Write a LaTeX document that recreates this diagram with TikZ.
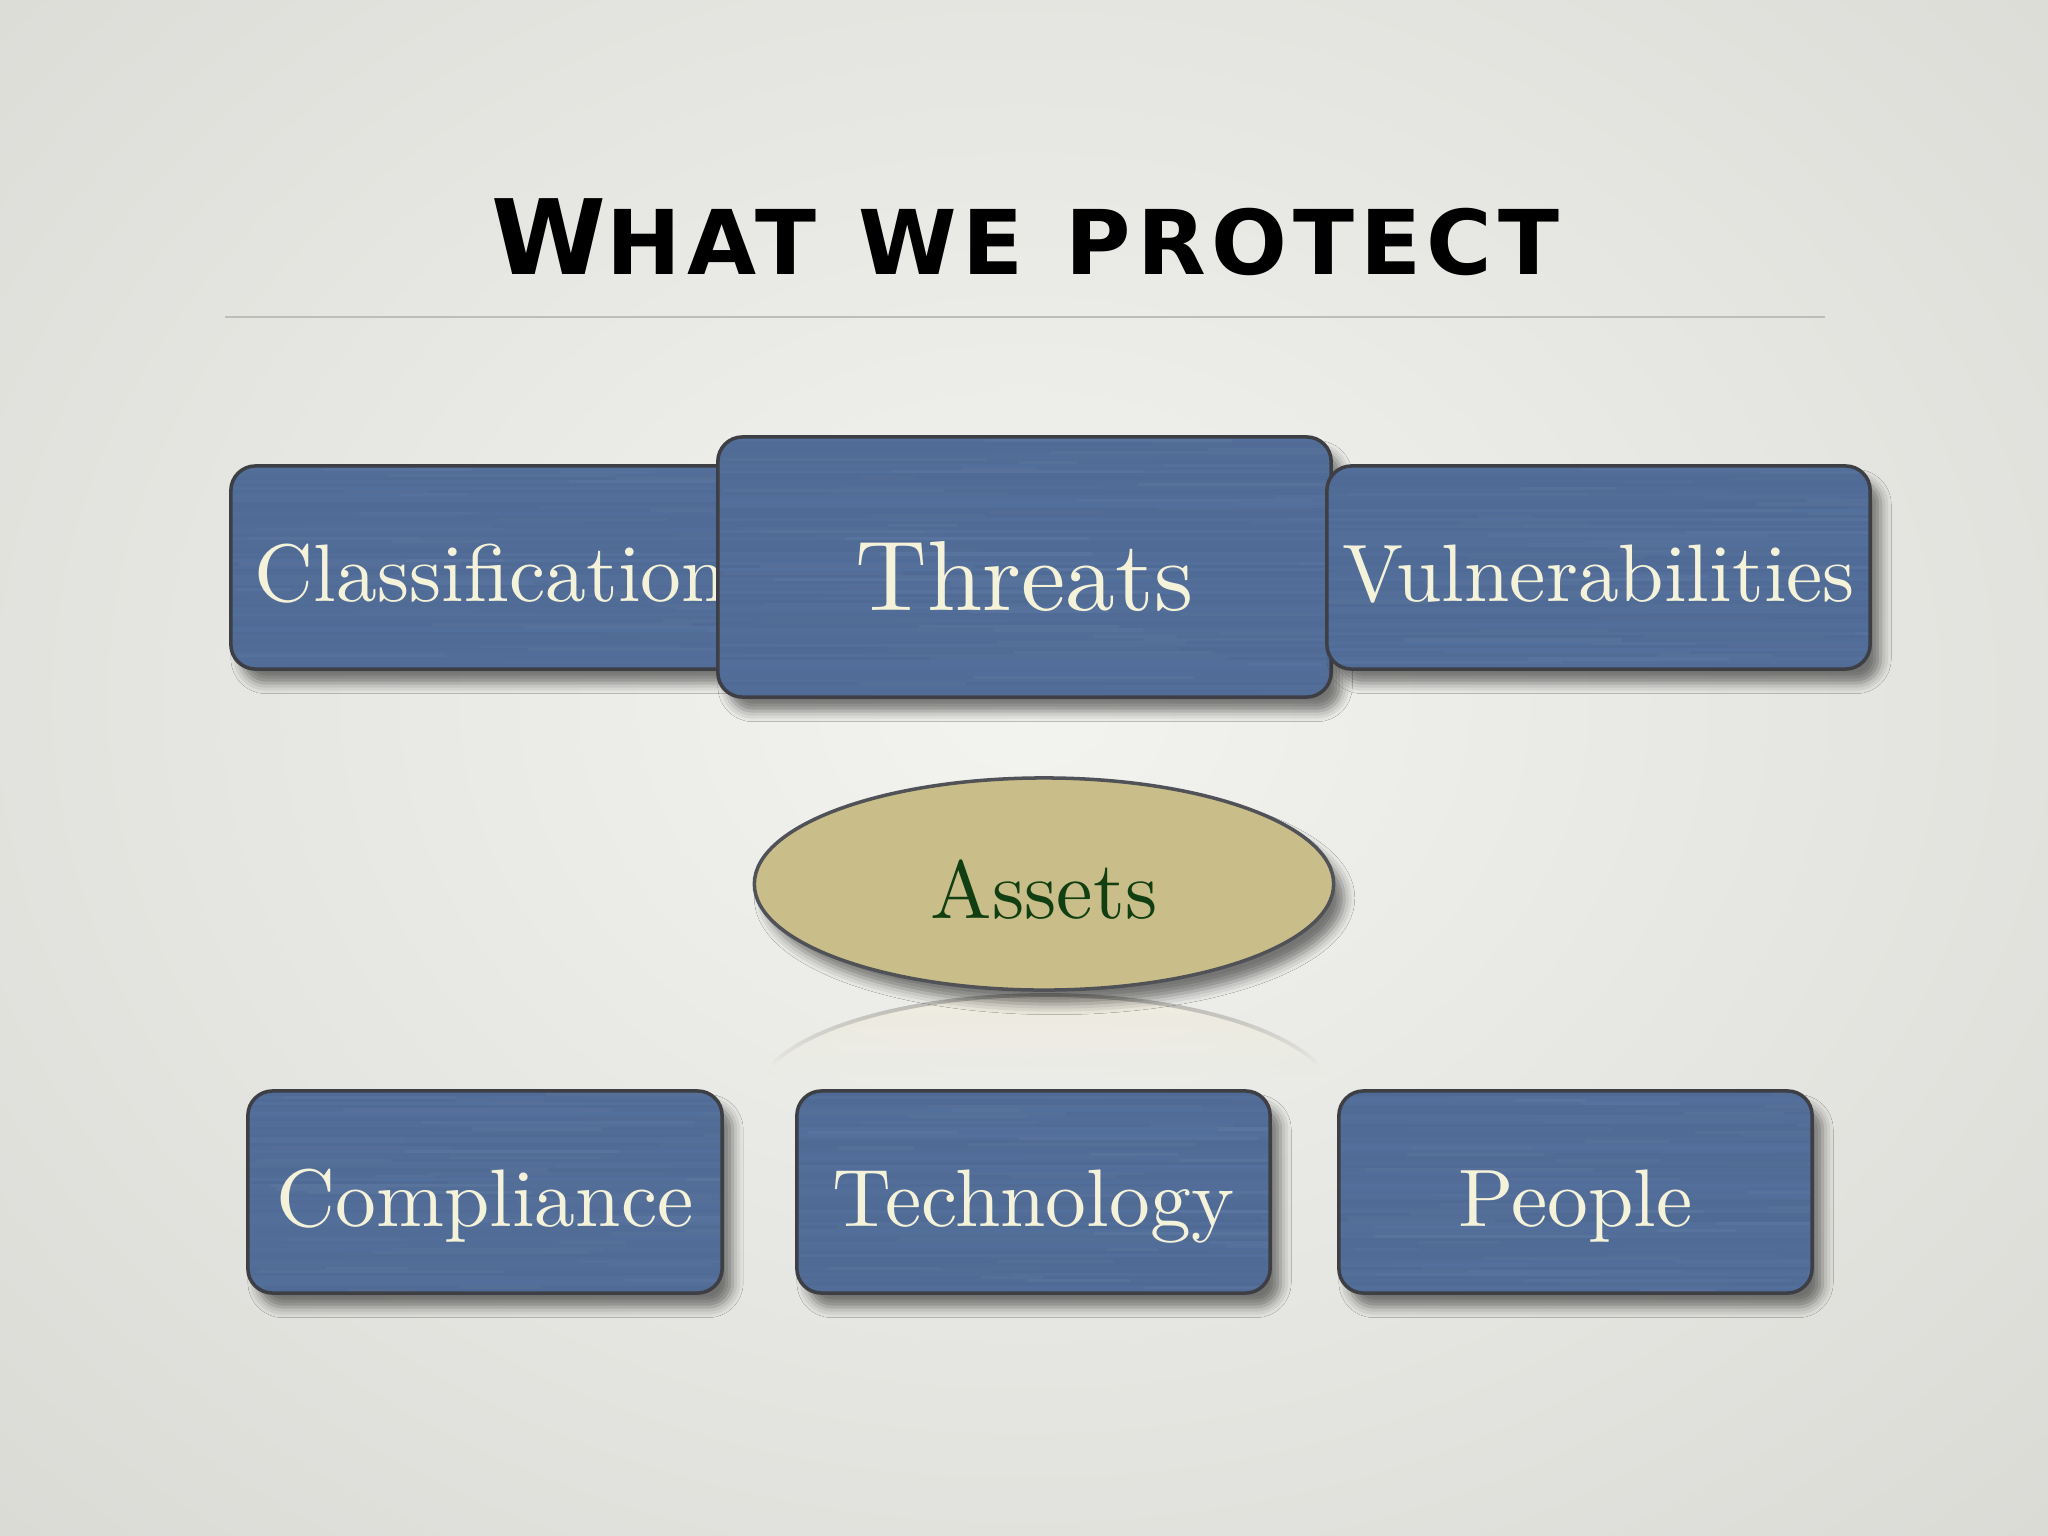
\documentclass[tikz,border=0pt]{standalone}
\usepackage{fontspec}
\newfontfamily\titlefont[LetterSpace=6.5]{DejaVu Sans}
\newfontfamily\boxfont{lmroman10-regular.otf}
\usetikzlibrary{shadows.blur,fadings,shapes.geometric,calc}
\definecolor{bgin}{HTML}{F3F3F0}
\definecolor{bgout}{HTML}{C9CAC3}
\definecolor{boxblue}{RGB}{83,111,155}
\definecolor{boxline}{HTML}{3D3F44}
\definecolor{cream}{HTML}{F5F2DA}
\definecolor{khaki}{RGB}{201,190,137}
\definecolor{assetgreen}{HTML}{113F12}
\definecolor{rulegray}{HTML}{BDBDBA}
\tikzfading[name=fadedown, top color=transparent!0, bottom color=transparent!100]
\begin{document}
\begin{tikzpicture}[x=0.01cm,y=-0.01cm,
  boxshadow/.style={blur shadow={shadow xshift=3pt, shadow yshift=-4pt, shadow blur radius=3pt, shadow opacity=50}},
  brushed/.style={path picture={
    \pgfmathsetseed{#1}
    \foreach \k in {0,...,85}{
      \pgfmathsetmacro\opa{0.045*rnd}
      \pgfmathsetmacro\opb{0.04*rnd}
      \pgfmathsetmacro\sa{rnd}
      \pgfmathsetmacro\la{0.5+2.5*rnd}
      \draw[black, opacity=\opa, line width=0.9pt]
        ([yshift=-\k*0.9pt]path picture bounding box.north west) -- ([yshift=-\k*0.9pt]path picture bounding box.north east);
      \draw[white, opacity=\opb, line width=0.9pt]
        ($([yshift=-\k*0.9pt]path picture bounding box.north west)!\sa!([yshift=-\k*0.9pt]path picture bounding box.north east)$) -- ++(\la cm,0pt);
    }}},
  bluebox/.style={draw=boxline, line width=1pt, fill=boxblue, rounded corners=7pt, text=cream,
     boxshadow, font=\boxfont\fontsize{23.2}{26}\selectfont, text height=21pt, text depth=1.6pt, inner sep=0pt},
  bigbox/.style={bluebox, font=\boxfont\fontsize{28.3}{30}\selectfont, text height=26pt, text depth=1.5pt},
  assetshape/.style={ellipse, draw=boxline!90, line width=1pt, fill=khaki, text=assetgreen, boxshadow,
     font=\boxfont\fontsize{23.3}{26}\selectfont, text height=21pt, text depth=1.6pt, inner sep=0pt},
  titlestyle/.style={anchor=base, inner sep=0pt, text=black}
]
\useasboundingbox (0,0) rectangle (2048,1536);
% background
\begin{scope}
  \clip (0,0) rectangle (2048,1536);
  \shade[inner color=bgin, outer color=bgout] (1024,700) ellipse (2500 and 2000);
\end{scope}
% title
\node[titlestyle] (title) at (1025.5,274)
  {\titlefont\bfseries\fontsize{29.6}{30}\selectfont W\fontsize{25.4}{26}\selectfont HAT\hspace{12pt}WE\hspace{12pt}PROTECT};
\draw[rulegray, line width=0.6pt] (225,317) -- (1825,317);
% top row
\node[bluebox, brushed=11, minimum width=5.20cm, minimum height=2.03cm] (class) at (491,567.5) {Classification};
\node[bigbox, brushed=23, minimum width=6.13cm, minimum height=2.60cm] (threats) at (1024.5,567) {Threats};
\node[bluebox, brushed=37, minimum width=5.43cm, minimum height=2.03cm] (vuln) at (1598.5,567.5) {Vulnerabilities};
% reflection of the ellipse
\begin{scope}
  \clip (1045,1100) ellipse (290 and 105);
  \fill[color=khaki!30!white, path fading=fadedown, opacity=0.9] (740,990) rectangle (1350,1075);
\end{scope}
\draw[color=black!55, line width=1.1pt, opacity=0.55, path fading=fadedown]
  (772.5,1064.1) arc[start angle=200, end angle=340, x radius=290, y radius=105];
% assets
\node[assetshape, minimum width=5.79cm, minimum height=2.12cm] (assets) at (1044,884) {Assets};
% bottom row
\node[bluebox, brushed=41, minimum width=4.74cm, minimum height=2.02cm] (compl) at (485,1192) {Compliance};
\node[bluebox, brushed=53, minimum width=4.73cm, minimum height=2.02cm] (tech) at (1033.5,1192) {Technology};
\node[bluebox, brushed=67, minimum width=4.73cm, minimum height=2.02cm] (people) at (1575.5,1192) {People};
\end{tikzpicture}
\end{document}
